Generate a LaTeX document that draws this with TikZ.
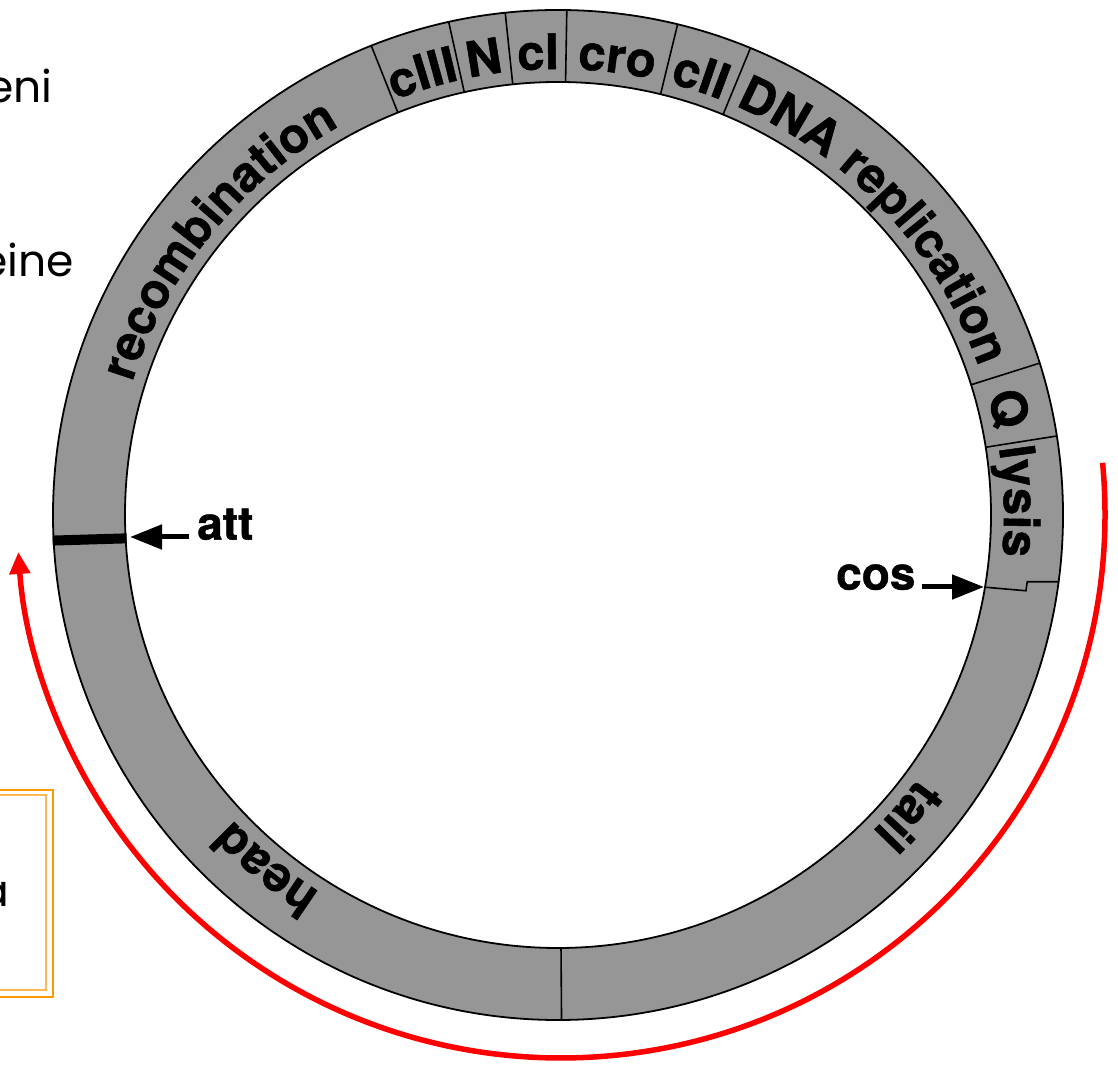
\documentclass[tikz,border=0pt]{standalone}
\usepackage{fontspec}
\setmainfont{TeX Gyre Heros}
\newfontfamily\labelff{TeX Gyre Heros}[BoldFeatures={FakeBold=1}]
\newfontfamily\handff{Poppins}
\usetikzlibrary{decorations.text, arrows.meta}
\definecolor{ringgray}{RGB}{150,150,150}
\definecolor{boxorange}{RGB}{255,153,0}
\definecolor{boxorangelight}{RGB}{255,185,80}
\newcommand{\ringfont}{\labelff\bfseries\fontsize{49}{49}\selectfont}
\newcommand{\ringtext}[3]{%
  \path[decorate, decoration={text along path, text align=center, text={|\ringfont|#3}}]
    ({#1+#2}:446) arc[start angle={#1+#2}, end angle={#1-#2}, radius=446pt];}
\begin{document}
\begin{tikzpicture}[x=1pt,y=1pt,
  ringline/.style={black, line width=1.8pt},
  divider/.style={black, line width=1.6pt},
  lbl/.style={font=\labelff\bfseries\fontsize{46}{46}\selectfont, inner sep=2pt},
  hand/.style={font=\handff\fontsize{44}{44}\selectfont, inner sep=0pt},
  blkarrow/.style={black, line width=5pt, -{Triangle[length=32pt,width=24pt]}},
  redarrow/.style={red, line width=5.5pt, -{Triangle[length=22pt,width=20pt]}}]
\useasboundingbox (0,0) rectangle (1118,1065);
\clip (0,0) rectangle (1118,1065);

% left texts
\node[hand, anchor=base east] (eni) at (53,962) {eni};
\node[hand, anchor=base east] (eine) at (74,788) {eine};
\draw[boxorange, line width=2.5pt] (-10,275) rectangle (53,68);
\draw[boxorangelight, line width=1.5pt] (-10,270) rectangle (46,75);
\node[hand, anchor=base east] (aa) at (9,158) {a};

% ring
\coordinate (C) at (558,550);
\begin{scope}[shift={(C)}]
  \fill[ringgray, even odd rule] (0,0) circle[radius=505pt] (0,0) circle[radius=433pt];
  \draw[ringline] (0,0) circle[radius=505pt];
  \draw[ringline] (0,0) circle[radius=433pt];
  \foreach \a in {111.7,102.5,96,89,76.3,67.6,17.5,9,-89.6}
    \draw[divider] (\a:433) -- (\a:505);
  \draw[divider] (-9.6:433) -- (-9.2:474) -- (-8.1:474) -- (-7.6:505);
  \draw[black, line width=10pt] (183.1:432) -- (182.9:506);
  \ringtext{141}{30}{recombination}
  \ringtext{107.1}{12}{cIII}
  \ringtext{99.25}{10}{N}
  \ringtext{92.5}{10}{cI}
  \ringtext{82.6}{12}{cro}
  \ringtext{72}{12}{cII}
  \ringtext{43}{30}{DNA replication}
  \ringtext{13.3}{10}{Q}
  \ringtext{1.7}{15}{lysis}
  \ringtext{-40.7}{20}{tail}
  \ringtext{230.4}{20}{head}
\end{scope}

% att and cos
\node[lbl, anchor=mid west] (attlabel) at (195,528) {att};
\coordinate (atttip) at (130,528);
\draw[blkarrow, shorten <=6pt] (attlabel.mid west) -- (atttip);
\node[lbl, anchor=mid west] (coslabel) at (834,478) {cos};
\coordinate (costip) at (984,478);
\draw[blkarrow, shorten <=4pt] (coslabel.mid east) -- (costip);

% red arc
\coordinate (RC) at (561,551);
\begin{scope}[shift={(RC)}]
  \coordinate (redstart) at (5.4:544);
  \draw[redarrow] (redstart) arc[start angle=5.4, end angle=-176, radius=544pt];
\end{scope}
\end{tikzpicture}
\end{document}
